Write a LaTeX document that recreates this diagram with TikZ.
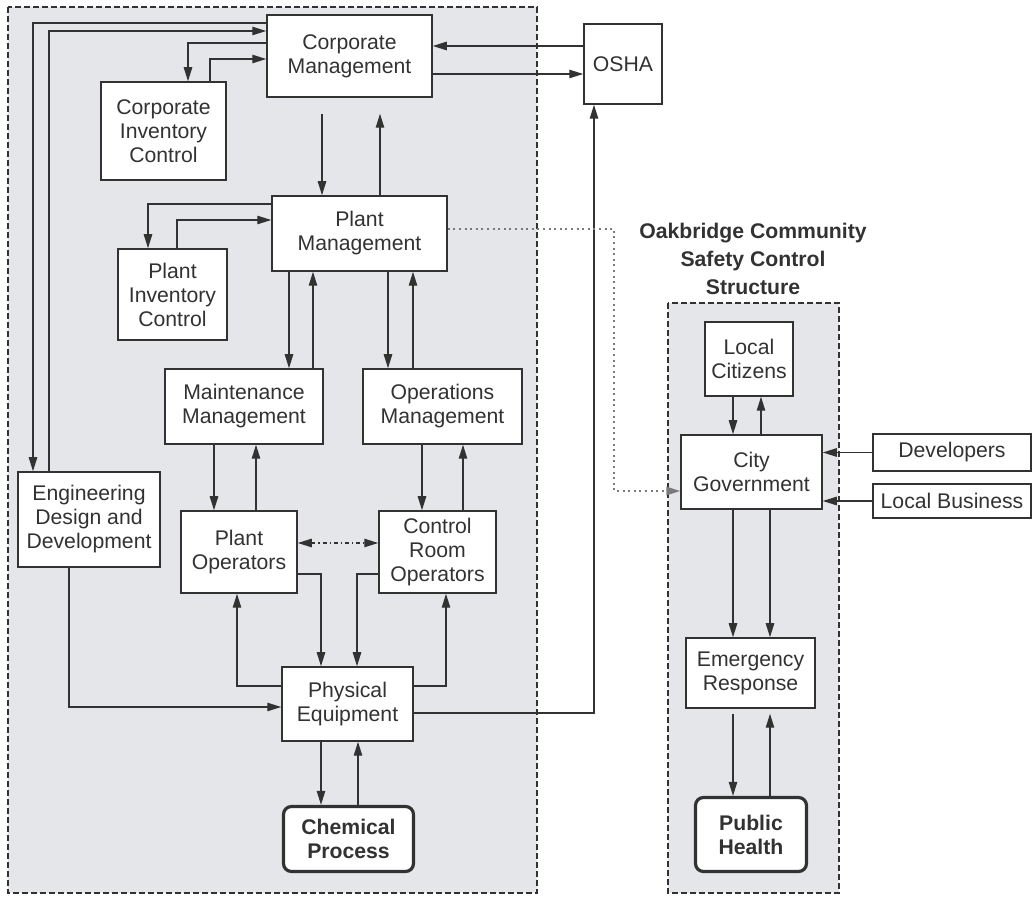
\documentclass[tikz,border=0pt]{standalone}
\usepackage{fontspec}
\setmainfont{Liberation Sans}
\usetikzlibrary{arrows.meta}
\usetikzlibrary{calc}

\definecolor{inkgray}{RGB}{50,50,50}
\definecolor{zonegray}{RGB}{228,230,233}

\begin{document}
\begin{tikzpicture}[x=0.5pt, y=-0.5pt,
    every node/.style={font=\fontsize{10.6}{12}\selectfont, align=center, text=inkgray},
    box/.style={draw=inkgray, fill=white, line width=0.75pt, inner sep=0pt},
    procbox/.style={box, line width=1.6pt, rounded corners=4pt, font=\fontsize{10.6}{12}\selectfont\bfseries},
    zone/.style={draw=inkgray, fill=zonegray, line width=0.6pt, dash pattern=on 3pt off 1.5pt},
    arr/.style={draw=inkgray, line width=0.7pt, -{Triangle[length=7pt,width=4.2pt]}},
    link/.style={draw=inkgray!65, line width=0.9pt, dash pattern=on 1pt off 1.8pt, -{Triangle[length=7pt,width=4.2pt]}}]

        \useasboundingbox (0,0) rectangle (1035,898);

        % the two control structures
        \draw[zone] (8,7) rectangle (537,893);
        \draw[zone] (668,303) rectangle (839,893);

        \node[font=\fontsize{10.6}{14}\selectfont\bfseries] (title) at (753,259) {Oakbridge Community\\Safety Control\\Structure};

        % plant side
        \node[box, minimum width=82.5pt, minimum height=41pt] (cm) at (349.5,56) {Corporate\\Management};
        \node[box, minimum width=62.5pt, minimum height=49pt] (cic) at (163.5,131) {Corporate\\Inventory\\Control};
        \node[box, minimum width=39pt, minimum height=40pt] (osha) at (623,64) {OSHA};
        \node[box, minimum width=87.5pt, minimum height=37.5pt] (pm) at (359.5,233.5) {Plant\\Management};
        \node[box, minimum width=54.5pt, minimum height=45.5pt] (pic) at (172.5,294.5) {Plant\\Inventory\\Control};
        \node[box, minimum width=79pt, minimum height=37.5pt] (mm) at (244,406.5) {Maintenance\\Management};
        \node[box, minimum width=79.5pt, minimum height=37.5pt] (om) at (442.5,406.5) {Operations\\Management};
        \node[box, minimum width=71pt, minimum height=47.5pt] (edd) at (89,519.5) {Engineering\\Design and\\Development};
        \node[box, minimum width=58pt, minimum height=41pt] (po) at (239,552) {Plant\\Operators};
        \node[box, minimum width=58.5pt, minimum height=41pt] (cro) at (437.5,552) {Control\\Room\\Operators};
        \node[box, minimum width=65.5pt, minimum height=37pt] (pe) at (347.5,704) {Physical\\Equipment};
        \node[procbox, minimum width=65pt, minimum height=32.5pt] (cp) at (348.5,839) {Chemical\\Process};

        % community side
        \node[box, minimum width=44pt, minimum height=37pt] (lc) at (749,359) {Local\\Citizens};
        \node[box, minimum width=70.5pt, minimum height=37pt] (cg) at (751.5,472) {City\\Government};
        \node[box, minimum width=79pt, minimum height=18.5pt] (dev) at (952,452.5) {Developers};
        \node[box, minimum width=79pt, minimum height=17pt] (lb) at (952,501) {Local Business};
        \node[box, minimum width=64.5pt, minimum height=35pt] (er) at (750.5,673) {Emergency\\Response};
        \node[procbox, minimum width=55.5pt, minimum height=37pt] (ph) at (751,834.5) {Public\\Health};

        % corporate level
        \draw[arr] (cm.west |- 0,23) -| (edd.north -| 33,0);
        \draw[arr] (edd.north -| 49,0) |- (cm.west |- 0,31);
        \draw[arr] (cm.west |- 0,43) -| (cic.north -| 188,0);
        \draw[arr] (cic.north -| 210,0) |- (cm.west |- 0,59);
        \draw[arr] (osha.west |- 0,46) -- (cm.east |- 0,46);
        \draw[arr] (cm.east |- 0,74) -- (osha.west |- 0,74);
        \draw[arr, shorten <=8pt] (cm.south -| 322,0) -- (pm.north -| 322,0);
        \draw[arr, shorten >=8pt] (pm.north -| 380,0) -- (cm.south -| 380,0);

        % plant level
        \draw[arr] (pm.west |- 0,204) -| (pic.north -| 148,0);
        \draw[arr] (pic.north -| 177,0) |- (pm.west |- 0,220);
        \draw[arr] (pm.south -| 289,0) -- (mm.north -| 289,0);
        \draw[arr] (mm.north -| 313,0) -- (pm.south -| 313,0);
        \draw[arr] (pm.south -| 388,0) -- (om.north -| 388,0);
        \draw[arr] (om.north -| 413,0) -- (pm.south -| 413,0);

        % operators
        \draw[arr] (mm.south -| 214,0) -- (po.north -| 214,0);
        \draw[arr] (po.north -| 256,0) -- (mm.south -| 256,0);
        \draw[arr] (om.south -| 422,0) -- (cro.north -| 422,0);
        \draw[arr] (cro.north -| 463,0) -- (om.south -| 463,0);
        \draw[arr, {Triangle[length=7pt,width=4.2pt]}-{Triangle[length=7pt,width=4.2pt]},
              dash pattern=on 2pt off 1.5pt on 0.6pt off 1.5pt] (po.east |- 0,543) -- (cro.west |- 0,543);

        % equipment and process
        \draw[arr] (po.east |- 0,574) -| (pe.north -| 321,0);
        \draw[arr] (cro.west |- 0,574) -| (pe.north -| 357,0);
        \draw[arr] (pe.west |- 0,686) -| (po.south -| 237,0);
        \draw[arr] (pe.east |- 0,686) -| (cro.south -| 446,0);
        \draw[arr] (edd.south -| 69,0) |- (pe.west |- 0,707);
        \draw[arr] (pe.south -| 321,0) -- (cp.north -| 321,0);
        \draw[arr] (cp.north -| 358,0) -- (pe.south -| 358,0);
        \draw[arr] (pe.east |- 0,713) -| (osha.south -| 594,0);

        % link to the community
        \coordinate (bend) at (614,491);
        \draw[link] (pm.east |- 0,229) -| (bend) -- (cg.west |- bend);

        \draw[arr] (lc.south -| 733,0) -- (cg.north -| 733,0);
        \draw[arr] (cg.north -| 761,0) -- (lc.south -| 761,0);
        \draw[arr] (dev.west) -- (cg.east |- dev.west);
        \draw[arr] (lb.west) -- (cg.east |- lb.west);
        \draw[arr] (cg.south -| 733,0) -- (er.north -| 733,0);
        \draw[arr] (cg.south -| 770,0) -- (er.north -| 770,0);
        \draw[arr, shorten <=2.5pt] (er.south -| 733,0) -- (ph.north -| 733,0);
        \draw[arr, shorten >=2.5pt] (ph.north -| 770,0) -- (er.south -| 770,0);

      \end{tikzpicture}
\end{document}
